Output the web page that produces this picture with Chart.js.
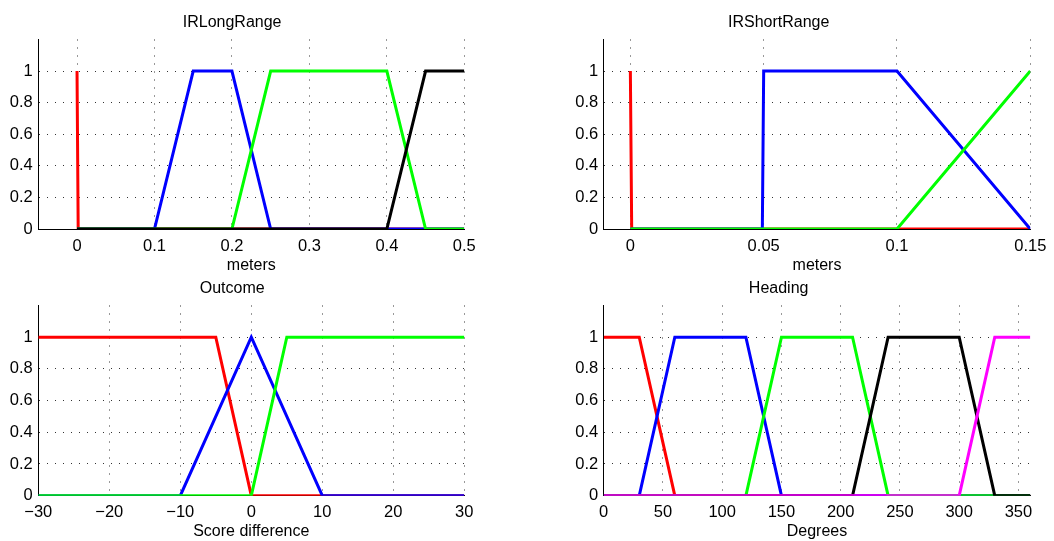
<!DOCTYPE html>
<html><head><meta charset="utf-8">
<script src="https://cdn.jsdelivr.net/npm/chart.js@4.4.1/dist/chart.umd.min.js"></script>
<style>
html,body{margin:0;padding:0;background:#fff;width:1054px;height:541px;overflow:hidden}
canvas{position:absolute}
</style></head><body>
<canvas id="c1" width="527" height="277" style="left:0;top:0"></canvas>
<canvas id="c2" width="527" height="277" style="left:527px;top:0"></canvas>
<canvas id="c3" width="527" height="273" style="left:0;top:270px"></canvas>
<canvas id="c4" width="527" height="273" style="left:527px;top:270px"></canvas>
<script>
// ---- Data ----
const yTicks = [0, 0.2, 0.4, 0.6, 0.8, 1];

// IRLongRange (meters)
const longTicks = [0, 0.1, 0.2, 0.3, 0.4, 0.5];
const longRedX = [0, 0.0015, 0.5];            const longRedY = [1, 0, 0];
const longBlueX = [0, 0.1, 0.15, 0.2, 0.25, 0.5]; const longBlueY = [0, 0, 1, 1, 0, 0];
const longGreenX = [0, 0.2, 0.25, 0.4, 0.45, 0.5]; const longGreenY = [0, 0, 1, 1, 0, 0];
const longBlackX = [0, 0.4, 0.45, 0.5];      const longBlackY = [0, 0, 1, 1];

// IRShortRange (meters)
const shortTicks = [0, 0.05, 0.1, 0.15];
const shortRedX = [0, 0.0005, 0.15];          const shortRedY = [1, 0, 0];
const shortBlueX = [0, 0.0495, 0.05, 0.1, 0.15]; const shortBlueY = [0, 0, 1, 1, 0];
const shortGreenX = [0, 0.1, 0.15];           const shortGreenY = [0, 0, 1];

// Outcome (Score difference)
const outTicks = [-30, -20, -10, 0, 10, 20, 30];
const outRedX = [-30, -5, 0, 30];             const outRedY = [1, 1, 0, 0];
const outBlueX = [-30, -10, 0, 10, 30];       const outBlueY = [0, 0, 1, 0, 0];
const outGreenX = [-30, 0, 5, 30];            const outGreenY = [0, 0, 1, 1];

// Heading (Degrees)
const headTicks = [0, 50, 100, 150, 200, 250, 300, 350];
const headRedX = [0, 30, 60, 360];            const headRedY = [1, 1, 0, 0];
const headBlueX = [0, 30, 60, 120, 150, 360]; const headBlueY = [0, 0, 1, 1, 0, 0];
const headGreenX = [0, 120, 150, 210, 240, 360]; const headGreenY = [0, 0, 1, 1, 0, 0];
const headBlackX = [0, 210, 240, 300, 330, 360]; const headBlackY = [0, 0, 1, 1, 0, 0];
const headMagentaX = [0, 300, 330, 360];      const headMagentaY = [0, 0, 1, 1];

// ---- Rendering ----
const FONT = "'Liberation Sans', Arial, Helvetica, sans-serif";
function fmt(v) { return String(Math.round(v * 10000) / 10000).replace('-', '\u2212'); }
function pts(xs, ys) { return xs.map((x, i) => ({x: x, y: ys[i]})); }

function makeChart(id, o) {
  new Chart(document.getElementById(id), {
    type: 'scatter',
    data: {
      datasets: o.series.map((s, i) => ({
        data: pts(s[0], s[1]),
        showLine: true,
        borderColor: s[2],
        backgroundColor: s[2],
        borderWidth: 3,
        pointRadius: 0,
        tension: 0,
        fill: false,
        order: -i
      }))
    },
    options: {
      responsive: false,
      animation: false,
      events: [],
      layout: {padding: {left: 0, right: o.rightPad, top: 0, bottom: 0}},
      plugins: {
        legend: {display: false},
        tooltip: {enabled: false},
        title: {
          display: true, text: o.title, color: '#000',
          font: {family: FONT, size: 16, weight: 'normal', lineHeight: 1.2},
          padding: {top: o.titleTop, bottom: o.titleBottom}
        }
      },
      scales: {
        x: {
          type: 'linear', min: o.xMin, max: o.xMax,
          afterBuildTicks: (sc) => { sc.ticks = o.xTicks.map(v => ({value: v})); },
          afterFit: (sc) => { sc.height = o.xHeight; },
          ticks: {
            autoSkip: false, maxRotation: 0, color: '#000', padding: o.tickPad,
            font: {family: FONT, size: 16.5, lineHeight: 1.2},
            callback: (v) => fmt(v)
          },
          grid: {color: 'rgba(0,0,0,0.8)', lineWidth: 1, drawTicks: false},
          border: {display: true, color: '#000', width: 1, dash: [1, 7]},
          title: {
            display: true, text: o.xLabel, color: '#000',
            font: {family: FONT, size: 16, lineHeight: 1.2},
            padding: {top: 0, bottom: o.xTitleBottom}
          }
        },
        y: {
          type: 'linear', min: 0, max: 1.2,
          afterBuildTicks: (sc) => { sc.ticks = yTicks.map(v => ({value: v})); },
          afterFit: (sc) => { sc.width = o.yWidth; },
          ticks: {
            autoSkip: false, color: '#000', padding: 5.5,
            font: {family: FONT, size: 16.5, lineHeight: 1.2},
            callback: (v) => fmt(v)
          },
          grid: {color: 'rgba(0,0,0,0.8)', lineWidth: 1, drawTicks: false},
          border: {display: true, color: '#000', width: 1, dash: [1, 7]}
        }
      }
    }
  });
}

makeChart('c1', {
  title: 'IRLongRange', xLabel: 'meters', xMin: -0.05, xMax: 0.5, xTicks: longTicks,
  series: [[longRedX, longRedY, '#ff0000'], [longBlueX, longBlueY, '#0000ff'],
           [longGreenX, longGreenY, '#00ff00'], [longBlackX, longBlackY, '#000000']],
  yWidth: 38.3, rightPad: 62.7, xHeight: 48, titleTop: 13, titleBottom: 7.3,
  tickPad: 7.6, xTitleBottom: 1.9
});
makeChart('c2', {
  title: 'IRShortRange', xLabel: 'meters', xMin: -0.01, xMax: 0.15, xTicks: shortTicks,
  series: [[shortRedX, shortRedY, '#ff0000'], [shortBlueX, shortBlueY, '#0000ff'],
           [shortGreenX, shortGreenY, '#00ff00']],
  yWidth: 76.7, rightPad: 23.7, xHeight: 48, titleTop: 13, titleBottom: 7.3,
  tickPad: 7.6, xTitleBottom: 1.9
});
makeChart('c3', {
  title: 'Outcome', xLabel: 'Score difference', xMin: -30, xMax: 30, xTicks: outTicks,
  series: [[outRedX, outRedY, '#ff0000'], [outBlueX, outBlueY, '#0000ff'],
           [outGreenX, outGreenY, '#00ff00']],
  yWidth: 38.3, rightPad: 62.7, xHeight: 47.3, titleTop: 9, titleBottom: 7.3,
  tickPad: 6.5, xTitleBottom: 1.9
});
makeChart('c4', {
  title: 'Heading', xLabel: 'Degrees', xMin: 0, xMax: 360, xTicks: headTicks,
  series: [[headRedX, headRedY, '#ff0000'], [headBlueX, headBlueY, '#0000ff'],
           [headGreenX, headGreenY, '#00ff00'], [headBlackX, headBlackY, '#000000'],
           [headMagentaX, headMagentaY, '#ff00ff']],
  yWidth: 76.7, rightPad: 23.7, xHeight: 47.3, titleTop: 9, titleBottom: 7.3,
  tickPad: 6.5, xTitleBottom: 1.9
});
</script>
</body></html>
